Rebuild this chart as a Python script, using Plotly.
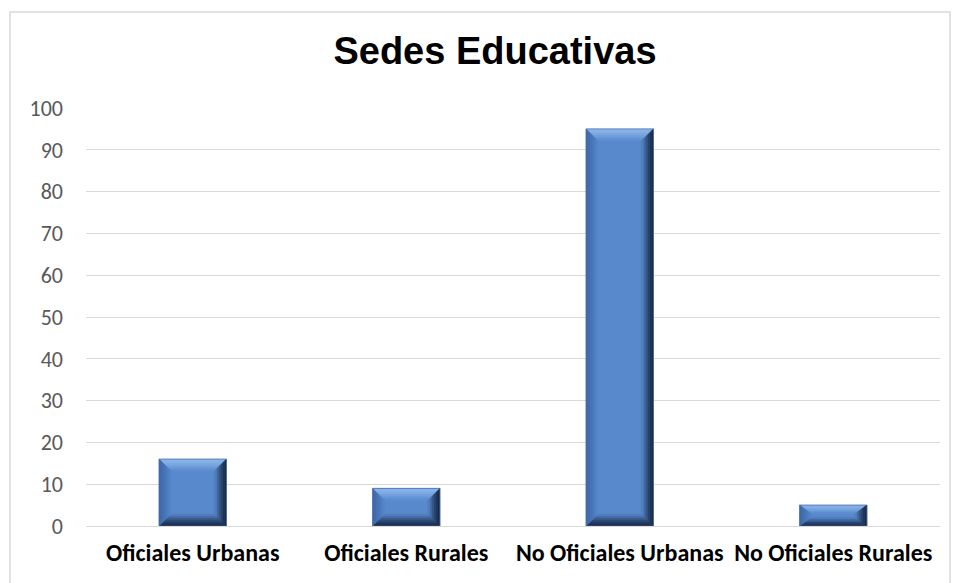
import plotly.graph_objects as go

categories = ["Oficiales Urbanas", "Oficiales Rurales", "No Oficiales Urbanas", "No Oficiales Rurales"]
values = [16, 9, 95, 5]
y_ticks = list(range(0, 101, 10))
title_text = "Sedes Educativas"

OFF = 8  # default page body margin
W, H = 959 - OFF, 583 - OFF
ML, MT = 86 - OFF, 108 - OFF
plot_w, plot_h = 854, 418
MR = W - ML - plot_w
MB = H - MT - plot_h
y_max = 100
bar_w = 0.315
n = len(categories)

# bevel size in pixels, converted to axis units
bev_px = 12
bx = bev_px * n / plot_w
by = bev_px * y_max / plot_h

face = (88, 137, 204)
top_c = (140, 182, 236)
left_c = (62, 104, 170)
right_c = (22, 38, 64)
bot_c = (26, 44, 76)


def mix(a, b, t):
    return "rgb(%d,%d,%d)" % tuple(round(a[i] + (b[i] - a[i]) * t) for i in range(3))


fig = go.Figure()
fig.add_trace(go.Bar(
    x=list(range(n)), y=values, width=bar_w,
    marker=dict(color=mix(face, face, 0), line=dict(width=0)),
    hoverinfo="y", showlegend=False,
))

shapes = []
steps = 6
for i, v in enumerate(values):
    x0, x1 = i - bar_w / 2, i + bar_w / 2
    y0, y1 = 0, v
    b_y = min(by, v / 2.4)
    for k in range(steps):
        f0, f1 = k / steps, (k + 1) / steps
        t = ((k + 0.5) / steps) ** 1.4
        ax0, ax1 = x0 + bx * f0, x1 - bx * f0
        ay0, ay1 = y0 + b_y * f0, y1 - b_y * f0
        cx0, cx1 = x0 + bx * f1, x1 - bx * f1
        cy0, cy1 = y0 + b_y * f1, y1 - b_y * f1
        polys = [
            ([(ax0, ay1), (ax1, ay1), (cx1, cy1), (cx0, cy1)], mix(top_c, face, t)),
            ([(ax0, ay0), (ax1, ay0), (cx1, cy0), (cx0, cy0)], mix(bot_c, face, t)),
            ([(ax0, ay0), (ax0, ay1), (cx0, cy1), (cx0, cy0)], mix(left_c, face, t)),
            ([(ax1, ay0), (ax1, ay1), (cx1, cy1), (cx1, cy0)], mix(right_c, face, t)),
        ]
        for pts, col in polys:
            path = "M " + " L ".join(f"{px},{py}" for px, py in pts) + " Z"
            shapes.append(dict(type="path", path=path, xref="x", yref="y",
                               fillcolor=col, line=dict(width=0.5, color=col), layer="above"))
    shapes.append(dict(type="rect", xref="x", yref="y", x0=x0, x1=x1, y0=y0, y1=y1,
                       line=dict(color="rgba(70,105,155,0.7)", width=1), fillcolor="rgba(0,0,0,0)",
                       layer="above"))


def px_x(p):
    return (p - OFF - ML) / plot_w


def px_y(p):
    return (H - MB - (p - OFF)) / plot_h


# outer chart border
shapes.append(dict(type="rect", xref="paper", yref="paper",
                   x0=px_x(10), x1=px_x(950), y0=px_y(620), y1=px_y(12),
                   line=dict(color="#D9D9D9", width=1.5), fillcolor="rgba(0,0,0,0)", layer="below"))

fig.update_layout(
    width=W, height=H,
    margin=dict(l=ML, r=MR, t=MT, b=MB, autoexpand=False),
    paper_bgcolor="white", plot_bgcolor="white",
    title=dict(text=f"<b>{title_text}</b>", x=px_x(495), xanchor="center", xref="paper",
               y=1 - (51 - OFF) / H, yanchor="middle",
               font=dict(family="Liberation Sans, Arial", size=38, color="#000000")),
    shapes=shapes,
    bargap=0,
    xaxis=dict(
        tickmode="array", tickvals=list(range(n)), ticktext=[f"<b>{c}</b>" for c in categories],
        range=[-0.5, n - 0.5], showgrid=False, showline=False, zeroline=False, ticks="",
        tickfont=dict(family="Carlito, Lato, sans-serif", size=24, color="#000000"),
        ticklabelstandoff=10,
    ),
    yaxis=dict(
        range=[0, y_max], tickvals=y_ticks, showgrid=True, gridcolor="#D9D9D9", gridwidth=1.3,
        zeroline=True, zerolinecolor="#D9D9D9", zerolinewidth=1.3, showline=False, ticks="",
        tickfont=dict(family="Carlito, Lato, sans-serif", size=22, color="#595959"),
        ticklabelstandoff=22,
    ),
)

fig.write_html("out.html")
